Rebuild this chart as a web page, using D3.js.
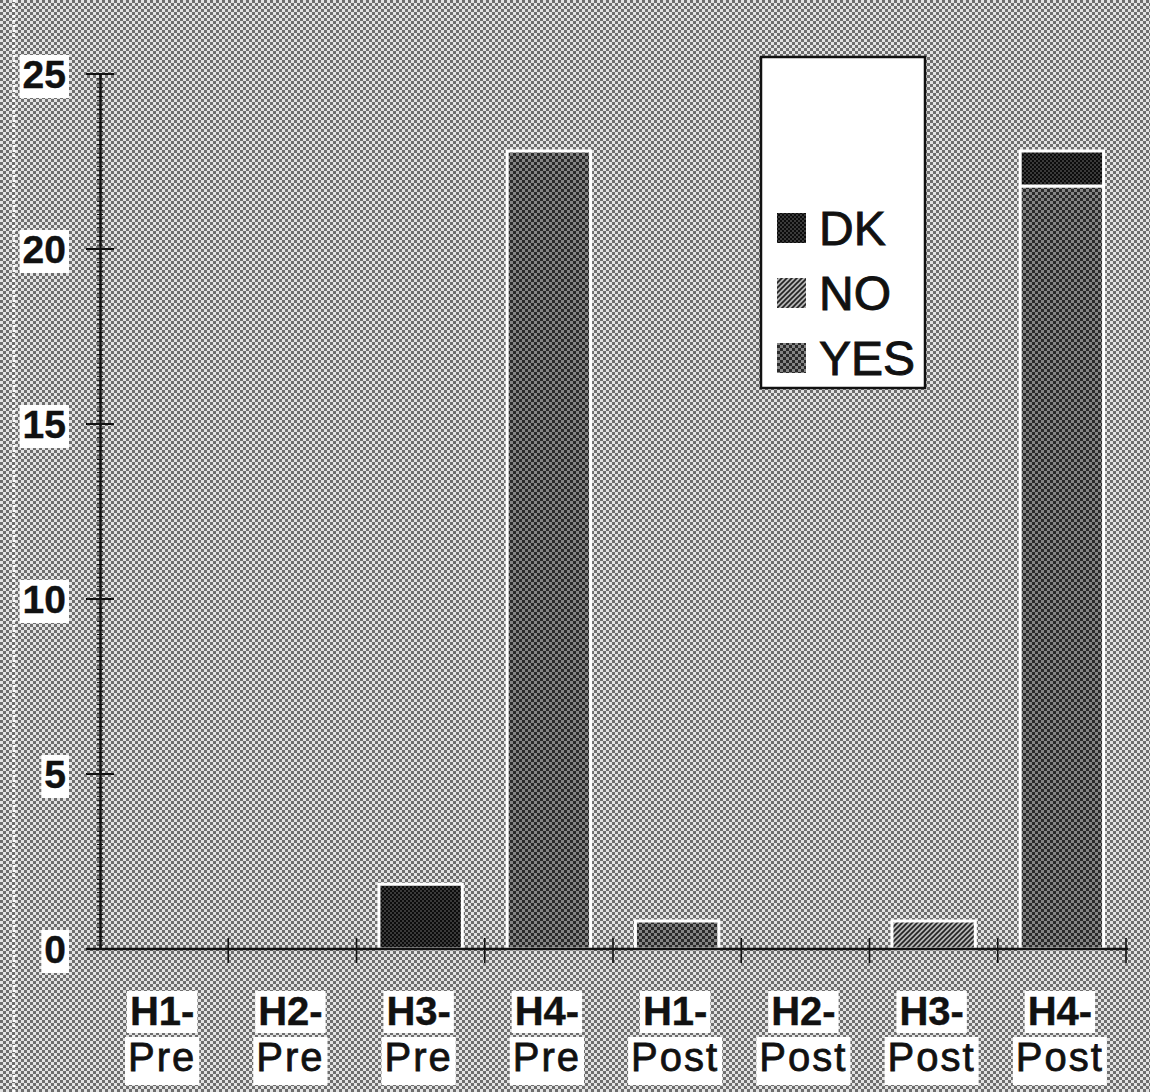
<!DOCTYPE html>
<html>
<head>
<meta charset="utf-8">
<script src="https://cdn.jsdelivr.net/npm/d3@7"></script>
<style>
  html, body { margin: 0; padding: 0; background: #fff; }
  svg { display: block; }
</style>
</head>
<body>
<div id="chart"></div>
<script>
// Survey responses per group and phase
const categories = ["H1-Pre", "H2-Pre", "H3-Pre", "H4-Pre", "H1-Post", "H2-Post", "H3-Post", "H4-Post"];
const yesValues  = [0, 0, 0,    22.8, 0.8, 0, 0,   21.8];
const noValues   = [0, 0, 0,    0,    0,   0, 0.8, 0];
const dkValues   = [0, 0, 1.85, 0,    0,   0, 0,   1.0];
const seriesKeys = ["YES", "NO", "DK"];
const legendOrder = ["DK", "NO", "YES"];
const yTickValues = [0, 5, 10, 15, 20, 25];

const W = 1150, H = 1092;
const margin = { left: 100, right: 24, top: 74, bottom: 143 };

const svg = d3.select("#chart").append("svg")
  .attr("width", W).attr("height", H);

const defs = svg.append("defs");

// halftone-like fills
function checker(id, a, b, cell) {
  const p = defs.append("pattern").attr("id", id)
    .attr("width", cell * 2).attr("height", cell * 2)
    .attr("patternUnits", "userSpaceOnUse");
  p.append("rect").attr("width", cell * 2).attr("height", cell * 2).attr("fill", b);
  p.append("rect").attr("width", cell).attr("height", cell).attr("fill", a);
  p.append("rect").attr("x", cell).attr("y", cell).attr("width", cell).attr("height", cell).attr("fill", a);
}
checker("bgFill", "#6e6e6e", "#e2e2e2", 3);
checker("yesFill", "#2a2a2a", "#858585", 3);
checker("dkFill", "#0c0c0c", "#3a3a3a", 2);

const hatch = defs.append("pattern").attr("id", "noFill")
  .attr("width", 5).attr("height", 5)
  .attr("patternUnits", "userSpaceOnUse");
hatch.append("rect").attr("width", 5).attr("height", 5).attr("fill", "#b4b4b4");
hatch.append("path").attr("d", "M-1,6 L6,-1 M-1,1 L1,-1 M4,6 L6,4")
  .attr("stroke", "#222").attr("stroke-width", 1.6);

const fills = { YES: "url(#yesFill)", NO: "url(#noFill)", DK: "url(#dkFill)" };

// background
svg.append("rect").attr("width", W).attr("height", H).attr("fill", "url(#bgFill)");
svg.append("line").attr("x1", 14).attr("x2", 14).attr("y1", 0).attr("y2", H)
  .attr("stroke", "#fff").attr("stroke-width", 3).attr("stroke-dasharray", "2,3");

const x = d3.scaleBand()
  .domain(categories)
  .range([margin.left, W - margin.right])
  .paddingInner(0.35)
  .paddingOuter(0.175);

const y = d3.scaleLinear()
  .domain([0, 25])
  .range([H - margin.bottom, margin.top]);

// stacked data
const table = categories.map((c, i) => ({ cat: c, YES: yesValues[i], NO: noValues[i], DK: dkValues[i] }));
const stacked = d3.stack().keys(seriesKeys)(table);

const bars = svg.append("g");
stacked.forEach(layer => {
  bars.selectAll(null)
    .data(layer.filter(d => d[1] - d[0] > 0))
    .join("rect")
    .attr("x", d => x(d.data.cat))
    .attr("width", x.bandwidth())
    .attr("y", d => y(d[1]))
    .attr("height", d => y(d[0]) - y(d[1]))
    .attr("fill", fills[layer.key])
    .attr("stroke", "#fff")
    .attr("stroke-width", 3);
});

// x axis: baseline with ticks at band boundaries
const x0 = y(0);
const boundaries = [x.range()[0]].concat(categories.map(c => x(c) + x.bandwidth() / 2 + x.step() / 2));
const xAxis = svg.append("g");
xAxis.append("line")
  .attr("x1", margin.left - 14).attr("x2", x.range()[1] + 2)
  .attr("y1", x0).attr("y2", x0)
  .attr("stroke", "#111").attr("stroke-width", 2.5);
xAxis.selectAll(null).data(boundaries.slice(1)).join("line")
  .attr("x1", d => d).attr("x2", d => d)
  .attr("y1", x0 - 11).attr("y2", x0 + 14)
  .attr("stroke", "#111").attr("stroke-width", 1.6);

// y axis with minor and major ticks
const yAxisMinor = d3.axisLeft(y)
  .tickValues(d3.range(0, 25.001, 0.125))
  .tickSize(3).tickSizeOuter(0).tickFormat("");
const gy = svg.append("g").attr("transform", `translate(${margin.left},0)`).call(yAxisMinor);
gy.select(".domain").attr("stroke", "#111").attr("stroke-width", 2.5);
gy.selectAll(".tick line").attr("stroke", "#111").attr("stroke-width", 1).attr("x2", 3).attr("x1", -3);

const yMajor = svg.append("g");
yMajor.selectAll(null).data(yTickValues).join("line")
  .attr("x1", margin.left - 14).attr("x2", margin.left + 14)
  .attr("y1", d => y(d)).attr("y2", d => y(d))
  .attr("stroke", "#111").attr("stroke-width", 2);

// label with white backing box
function boxedText(g, txt, tx, ty, opts) {
  const t = g.append("text")
    .attr("x", tx).attr("y", ty)
    .attr("text-anchor", opts.anchor || "middle")
    .attr("font-family", "'Liberation Sans', Arial, sans-serif")
    .attr("font-size", opts.size)
    .attr("font-weight", opts.weight || "normal")
    .attr("letter-spacing", opts.spacing || 0)
    .attr("fill", "#111")
    .attr("stroke", "#111")
    .attr("stroke-width", opts.weight === "bold" ? 0.4 : 0.8)
    .text(txt);
  const b = t.node().getBBox();
  g.insert("rect", () => t.node())
    .attr("x", b.x - 3).attr("y", b.y + (opts.padTop || 2))
    .attr("width", b.width + 6).attr("height", b.height - (opts.padTop || 2) + (opts.padBottom || 0))
    .attr("fill", "#fff");
}

const yLabels = svg.append("g");
yTickValues.forEach(v => {
  boxedText(yLabels, String(v), 66, y(v) + 14, { size: 39, weight: "bold", anchor: "end", padTop: 2, padBottom: 2 });
});

const xLabels = svg.append("g");
categories.forEach(c => {
  const parts = c.split("-");
  const cx = x(c) + x.bandwidth() / 2 - 2;
  boxedText(xLabels, parts[0] + "-", cx, 1025, { size: 40, weight: "bold", padTop: 0, padBottom: 0 });
  boxedText(xLabels, parts[1], cx, 1071, { size: 40, spacing: 2, padTop: 2, padBottom: 6 });
});

// legend
const lg = svg.append("g");
lg.append("rect")
  .attr("x", 761).attr("y", 57).attr("width", 164).attr("height", 331)
  .attr("fill", "#fff").attr("stroke", "#111").attr("stroke-width", 2.5);
const legendY = d3.scalePoint().domain(legendOrder).range([228, 358]);
legendOrder.forEach(k => {
  lg.append("rect")
    .attr("x", 777).attr("y", legendY(k) - 15).attr("width", 29).attr("height", 30)
    .attr("fill", fills[k]);
  lg.append("text")
    .attr("x", 819).attr("y", legendY(k) + 17)
    .attr("font-family", "'Liberation Sans', Arial, sans-serif")
    .attr("font-size", 48).attr("fill", "#111")
    .attr("stroke", "#111").attr("stroke-width", 0.9)
    .text(k);
});
</script>
</body>
</html>
